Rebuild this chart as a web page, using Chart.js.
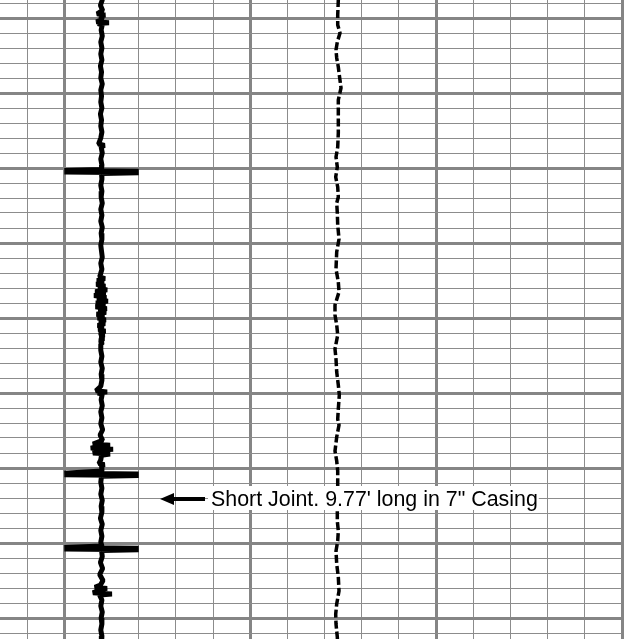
<!DOCTYPE html>
<html>
<head>
<meta charset="utf-8">
<script src="https://cdn.jsdelivr.net/npm/chart.js@4.4.1/dist/chart.umd.min.js"></script>
<style>
html,body{margin:0;padding:0;background:#ffffff;overflow:hidden;width:638px;height:639px;}
#wrap{position:absolute;left:-10px;top:-12px;width:642px;height:660px;}
canvas{display:block;}
</style>
</head>
<body>
<div id="wrap"><canvas id="c" width="642" height="660" style="width:642px;height:660px"></canvas></div>
<script>
// ---- grid ticks (track divisions and depth in ft) ----
const trackTicks = [-3,-2,-1,0,1,2,3,4,5,6,7,8,9,10,11,12,13,14];
const depthTicks = [4996,4998,5000,5002,5004,5006,5008,5010,5012,5014,5016,5018,5020,5022,5024,5026,5028,5030,5032,5034,5036,5038,5040,5042,5044,5046,5048,5050,5052,5054,5056,5058,5060,5062,5064,5066,5068,5070,5072,5074,5076,5078,5080,5082,5084];

// ---- CCL (casing collar locator) curve ----
const cclDepth = [4996.0,4996.8,4997.6,4998.3,4999.0,4999.45,4999.6,4999.75,5000.2,5000.5,5000.62,5000.75,5000.9,5001.6,5002.4,5003.2,5004.0,5004.8,5005.6,5006.4,5007.2,5008.0,5008.8,5009.6,5010.4,5011.2,5012.0,5012.8,5013.6,5014.4,5015.2,5016.0,5016.8,5017.0,5017.2,5018.0,5018.8,5019.6,5020.2,
 5020.33,5020.43,5020.53,5020.63,5020.73,
 5021.5,5022.3,5023.1,5023.9,5024.7,5025.5,5026.3,5027.1,5027.9,5028.7,5029.5,5030.3,5031.1,5031.9,5032.7,5033.5,5034.2,
 5034.5,5034.75,5035.0,5035.25,5035.5,5035.75,5036.0,5036.25,5036.5,5036.75,5037.0,5037.25,5037.5,5037.75,5038.0,5038.25,5038.5,5038.75,5039.0,5039.25,5039.5,5039.75,5040.0,5040.25,5040.5,5040.75,5041.0,5041.25,5041.5,5041.75,5042.0,5042.25,5042.5,5042.75,5043.0,5043.25,5043.5,
 5044.3,5045.1,5045.9,5046.7,5047.5,5048.3,5049.1,5049.7,5049.85,5050.0,5050.15,5050.9,5051.7,5052.5,5053.3,5054.1,5054.9,5055.6,5056.3,
 5056.8,5056.95,5057.1,5057.35,5057.5,5057.65,5058.0,5058.15,5058.3,5058.9,5059.4,5059.55,5059.7,5060.4,
 5060.69,5060.79,5060.89,5060.99,5061.09,
 5061.9,5062.7,5063.5,5064.3,5065.1,5065.9,5066.7,5067.5,5068.3,5069.1,5069.9,5070.4,
 5070.6,5070.7,5070.8,5070.9,5071.0,
 5071.8,5072.6,5073.4,5074.2,5075.0,5075.6,5075.9,5076.05,5076.2,5076.65,5076.8,5076.95,5077.6,5078.4,5079.2,5080.0,5080.8,5081.6,5082.4,5083.2,5084.0];
const cclValue = [0.01,-0.02,0.02,-0.03,0.03,-0.12,0.10,-0.02,0.02,-0.14,0.20,-0.10,0.02,-0.01,0.02,-0.02,0.01,-0.02,0.01,-0.03,0.0,-0.02,0.02,-0.02,0.0,-0.02,0.01,-0.03,0.0,-0.02,0.01,-0.02,-0.08,0.08,-0.01,0.02,-0.02,0.01,0.0,
 -1.0,1.0,-1.0,1.0,0.0,
 0.01,-0.02,0.01,-0.01,0.02,-0.02,0.01,-0.02,0.02,-0.01,0.01,-0.02,0.0,0.02,-0.02,0.01,-0.03,
 -0.05,0.09,-0.12,0.06,-0.14,0.10,-0.09,0.15,-0.17,0.11,-0.20,0.13,-0.12,0.17,-0.15,0.10,-0.16,0.14,-0.08,0.12,-0.13,0.07,-0.10,0.11,-0.06,0.09,-0.10,0.05,-0.08,0.10,-0.06,0.07,-0.04,0.06,-0.05,0.03,-0.02,
 -0.02,0.01,-0.02,0.02,-0.01,0.01,-0.02,-0.15,0.15,-0.10,0.02,-0.01,0.02,-0.02,0.01,-0.02,0.03,-0.04,0.03,
 -0.23,0.23,-0.05,-0.29,0.31,-0.05,-0.23,0.23,0.0,-0.02,-0.07,0.08,0.0,0.01,
 -1.0,1.0,-1.0,1.0,0.0,
 -0.02,0.01,-0.02,0.02,-0.01,0.01,-0.03,0.02,-0.02,0.01,-0.02,0.01,
 -1.0,1.0,-1.0,1.0,0.0,
 0.02,-0.03,0.03,-0.05,0.04,-0.03,-0.18,0.15,-0.02,-0.23,0.28,-0.05,0.01,-0.02,0.02,-0.01,0.01,-0.02,0.01,-0.01,0.0];

// ---- second curve (dashed) ----
const grDepth = [4996.0,4997.6,4999.6,5000.93,5002.0,5003.2,5004.27,5005.33,5006.53,5007.6,5009.33,5010.93,5013.2,5015.33,5017.2,5018.53,5019.87,5021.2,5022.53,5023.87,5024.67,5026.0,5027.6,5029.47,5031.2,5033.47,5035.2,5036.53,5038.27,5039.6,5040.93,5042.27,5044.13,5045.47,5047.2,5048.93,5050.27,5052.13,5053.47,5054.27,5055.87,5057.73,5059.07,5060.4,5061.73,5063.47,5065.2,5067.07,5068.4,5069.73,5071.07,5072.8,5074.53,5076.4,5078.13,5079.47,5080.8,5082.53,5084.0];
const grValue = [93.69,93.69,93.53,93.53,94.15,93.42,93.07,93.26,93.69,93.96,94.42,93.69,93.69,93.69,93.53,93.07,93.42,92.99,93.53,93.69,93.26,93.42,93.53,93.88,93.26,93.07,93.69,93.88,92.80,92.80,93.26,93.53,92.80,93.07,93.26,93.69,93.96,93.69,93.53,93.88,93.26,92.80,93.26,93.53,93.53,93.53,93.42,93.42,93.69,93.53,93.07,93.26,93.69,93.88,93.26,92.99,93.07,93.42,93.53];

// ---- annotation ----
const noteText = "Short Joint. 9.77' long in 7\" Casing";
const noteDepth = 5064.13;
const noteTrack = 1.573;

const notePlugin = {
  id: 'note',
  afterDatasetsDraw(chart) {
    const ctx = chart.ctx;
    const xs = chart.scales.x, ys = chart.scales.y;
    const yA = ys.getPixelForValue(noteDepth);
    const tip = xs.getPixelForValue(noteTrack);
    ctx.save();
    // arrow
    ctx.fillStyle = '#000';
    ctx.strokeStyle = '#000';
    ctx.lineWidth = 4;
    ctx.beginPath();
    ctx.moveTo(tip + 10, yA);
    ctx.lineTo(tip + 45, yA);
    ctx.stroke();
    ctx.beginPath();
    ctx.moveTo(tip, yA);
    ctx.lineTo(tip + 14, yA - 6);
    ctx.lineTo(tip + 14, yA + 6);
    ctx.closePath();
    ctx.fill();
    // text
    ctx.font = '20px "Liberation Sans", Arial, sans-serif';
    const w20 = ctx.measureText(noteText).width;
    const size = 20 * 327 / w20;
    ctx.font = size.toFixed(2) + 'px "Liberation Sans", Arial, sans-serif';
    const w = ctx.measureText(noteText).width;
    const tx = tip + 51;
    const base = yA + 7.5;
    ctx.fillStyle = '#ffffff';
    ctx.fillRect(tx - 3, base - 20.5, w + 4, 24);
    ctx.fillStyle = '#000000';
    ctx.textBaseline = 'alphabetic';
    ctx.textAlign = 'left';
    ctx.fillText(noteText, tx, base);
    ctx.restore();
  }
};

const toPts = (ys, xs) => ys.map((d, i) => ({x: xs[i], y: d}));

new Chart(document.getElementById('c'), {
  type: 'scatter',
  data: {
    datasets: [
      {
        data: toPts(cclDepth, cclValue),
        xAxisID: 'x', yAxisID: 'y',
        showLine: true,
        borderColor: '#000000',
        borderWidth: 5,
        borderJoinStyle: 'bevel',
        pointRadius: 0,
        tension: 0
      },
      {
        data: toPts(grDepth, grValue),
        xAxisID: 'gr', yAxisID: 'y',
        showLine: true,
        borderColor: '#000000',
        borderWidth: 3.5,
        borderDash: [8, 3],
        pointRadius: 0,
        tension: 0
      }
    ]
  },
  options: {
    responsive: false,
    devicePixelRatio: 1,
    animation: false,
    events: [],
    layout: { padding: { left: 0, top: 0, bottom: 0, right: 10 } },
    plugins: { legend: { display: false }, tooltip: { enabled: false } },
    scales: {
      x: {
        type: 'linear', position: 'bottom', min: -3, max: 14,
        afterBuildTicks: (s) => { s.ticks = trackTicks.map(v => ({ value: v })); },
        ticks: { display: false, padding: 0 },
        border: { display: false },
        grid: {
          drawTicks: false,
          color: (c) => ((c.tick.value + 1) % 5 === 0 ? '#858585' : '#8c8c8c'),
          lineWidth: (c) => ((c.tick.value + 1) % 5 === 0 ? 3 : 1)
        }
      },
      gr: {
        type: 'linear', position: 'top', display: false, min: 0, max: 170
      },
      y: {
        type: 'linear', position: 'left', reverse: true, min: 4996, max: 5084,
        afterBuildTicks: (s) => { s.ticks = depthTicks.map(v => ({ value: v })); },
        ticks: { display: false, padding: 0 },
        border: { display: false },
        grid: {
          drawTicks: false,
          color: (c) => (c.tick.value % 10 === 0 ? '#858585' : '#8c8c8c'),
          lineWidth: (c) => (c.tick.value % 10 === 0 ? 3 : 1)
        }
      }
    }
  },
  plugins: [notePlugin]
});
</script>
</body>
</html>
